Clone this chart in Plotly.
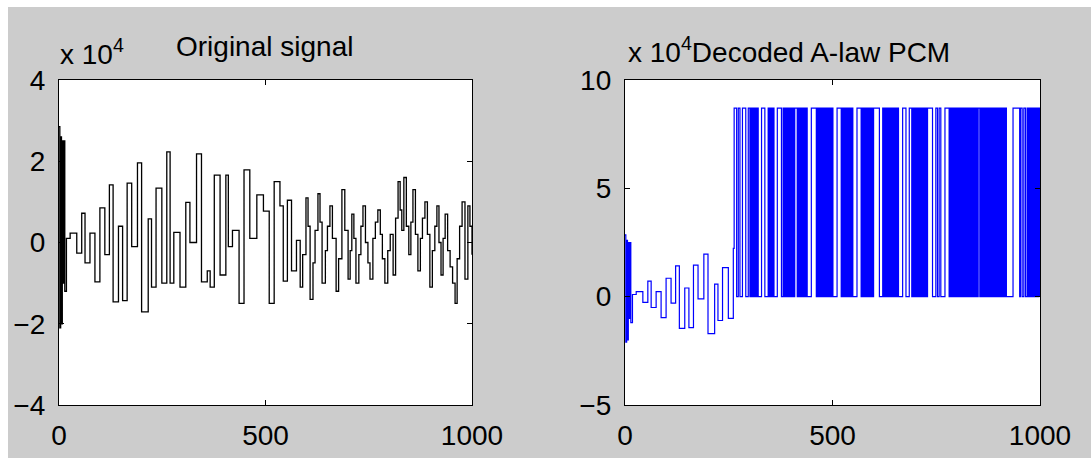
import plotly.graph_objects as go

# ---------------- data (values in units of 1e4) ----------------
# Original signal: sample index of each knot and its value (drawn as steps)
orig_n = [0, 2, 4, 6, 8, 10, 12, 14, 18, 27, 43, 55, 63, 75, 87, 99, 111, 122, 131, 144, 154, 165, 176,
          190, 200, 216, 224, 235, 249, 261, 269, 278, 293, 307, 317, 333, 345, 359, 366, 376, 390,
          404, 410, 420, 436, 448, 462, 479, 495, 509, 521, 535, 543, 553, 563, 575,
          584, 590, 598, 603, 608, 615, 620, 627, 632, 637, 645, 650, 656, 662, 671, 677, 685, 692,
          700, 705, 709, 714, 719, 726, 731, 736, 742, 748, 753, 760, 766, 772, 778, 783, 789, 796,
          802, 809, 815, 821, 826, 830, 835, 841, 847, 852, 857, 863, 869, 875, 880, 886, 892, 898,
          904, 910, 915, 920, 925, 930, 935, 941, 947, 953, 959, 964, 970, 976, 983, 990, 995, 1000]
orig_v = [2.85, -2.1, 2.6, -2.0, 2.5, -1.0, 2.5, -1.2, 0.1, 0.23, -0.26, 0.72, -0.5, 0.23, -0.97, 0.85,
          -0.3, 1.42, -1.46, 0.4, -1.43, 1.46, -0.1, 1.96, -1.71, 0.58, -1.1, 1.34, -1.0, 2.23, -1.0,
          0.25, -1.1, 0.99, 0.0, 2.18, -0.97, -0.7, -1.1, 1.66, -0.8, 1.66, -0.1, 0.3, -1.5, 1.79,
          0.1, 1.17, 0.77, -1.5, 1.5, 0.9, -0.95, 1.04, -0.7, 0.05,
          -1.1, -0.3, 1.1, 0.4, -1.4, -0.5, 0.3, 1.2, 0.5, -1.0, -0.2, 0.4, 0.9, 0.1, -1.2, -0.4, 1.3, 0.3,
          -0.9, -0.2, 0.7, 0.1, -1.0, -0.3, 0.4, 0.9, 0.0, -0.5, -0.9, 0.1, 0.5, 0.8, 0.2, -0.4, -1.0, -0.2,
          0.2, -0.8, 0.6, 1.5, 0.8, 0.3, 1.6, 0.4, -0.3, 0.5, 1.3, 0.2, -0.7, 0.1, 0.6, 1.0, 0.2, -1.1,
          -0.2, 0.4, 0.9, 0.0, -0.8, 0.1, 0.7, -0.2, -0.6, -1.0, -1.5, -0.4, 0.4, 1.0, -0.9, 0.9, 0.4, -0.3]

# Decoded A-law PCM: first part equals the original, then a two-level output
dec_split = 262                 # last sample that equals the original signal
dec_high = 8.7                  # high level of the faulty decoded output
dec_step = 2                    # samples per character below ('1' high, '0' zero)
dec_bits = "".join([
    "1110011", "000111100011", "0101010101", "000011110000", "10101010",
    "0001111100", "101010101010101", "11", "0101010101010", "0000111111",
    "01010101010101010101", "0000011111", "010101010101010", "0000111110",
    "101010101010101", "1111110000", "10101010101010101010", "000011110000111",
    "01010101010101010101", "11111000", "0110011", "0000011111",
    "01010101010101010101010101010101010", "11", "010101010101010101010101010101010",
    "000000011111111", "0110011001", "010101010101010",
])

# ---------------- figure ----------------
W, H = 1091, 458
FONT = "Liberation Sans, Arial, sans-serif"
FS = 28

dec_n = [n for n in orig_n if n <= dec_split]
dec_v = [v for n, v in zip(orig_n, orig_v) if n <= dec_split]
for i, b in enumerate(dec_bits):
    dec_n.append(dec_split + 1 + i * dec_step)
    dec_v.append(dec_high if b == "1" else 0.0)

fig = go.Figure()
fig.add_trace(go.Scatter(x=orig_n, y=orig_v, mode="lines", line=dict(color="black", width=1.3, shape="hv"),
                         xaxis="x", yaxis="y", showlegend=False))
fig.add_trace(go.Scatter(x=dec_n, y=dec_v, mode="lines", line=dict(color="#0000ff", width=1.2, shape="hv"),
                         xaxis="x2", yaxis="y2", showlegend=False))

def px_x(p):
    return p / W

def px_y(p):
    return 1 - p / H

axis_common = dict(showline=True, linecolor="black", linewidth=1.3, mirror="ticks", ticks="inside",
                   ticklen=5, tickcolor="black", showgrid=False, zeroline=False,
                   tickfont=dict(family=FONT, size=FS, color="black"), automargin=False)

fig.update_layout(
    width=W, height=H, margin=dict(l=0, r=0, t=0, b=0),
    paper_bgcolor="#cccccc", plot_bgcolor="white",
    xaxis=dict(domain=[px_x(59), px_x(472)], range=[0, 1000], tickvals=[0, 500, 1000],
               anchor="y", ticklabelstandoff=5, **axis_common),
    yaxis=dict(domain=[px_y(405), px_y(80)], range=[-4, 4], tickvals=[-4, -2, 0, 2, 4],
               anchor="x", ticklabelstandoff=7, **axis_common),
    xaxis2=dict(domain=[px_x(625), px_x(1040)], range=[0, 1000], tickvals=[0, 500, 1000],
                anchor="y2", ticklabelstandoff=5, **axis_common),
    yaxis2=dict(domain=[px_y(405), px_y(80)], range=[-5, 10], tickvals=[-5, 0, 5, 10],
                anchor="x2", ticklabelstandoff=7, **axis_common),
    shapes=[
        dict(type="rect", xref="paper", yref="paper", x0=0, x1=1, y0=px_y(7), y1=1,
             fillcolor="white", line=dict(width=0), layer="below"),
        dict(type="rect", xref="paper", yref="paper", x0=0, x1=px_x(8), y0=0, y1=1,
             fillcolor="white", line=dict(width=0), layer="below"),
    ],
    annotations=[
        dict(text="Original signal", x=px_x(264), y=px_y(47), xref="paper", yref="paper",
             xanchor="center", yanchor="middle", showarrow=False, font=dict(family=FONT, size=FS, color="black")),
        dict(text="x 10<sup>4</sup>", x=px_x(58), y=px_y(52), xref="paper", yref="paper",
             xanchor="left", yanchor="middle", showarrow=False, font=dict(family=FONT, size=FS, color="black")),
        dict(text="x 10<sup>4</sup>Decoded A-law PCM", x=px_x(626), y=px_y(50), xref="paper", yref="paper",
             xanchor="left", yanchor="middle", showarrow=False, font=dict(family=FONT, size=FS, color="black")),
    ],
)

fig.write_html("out.html")
